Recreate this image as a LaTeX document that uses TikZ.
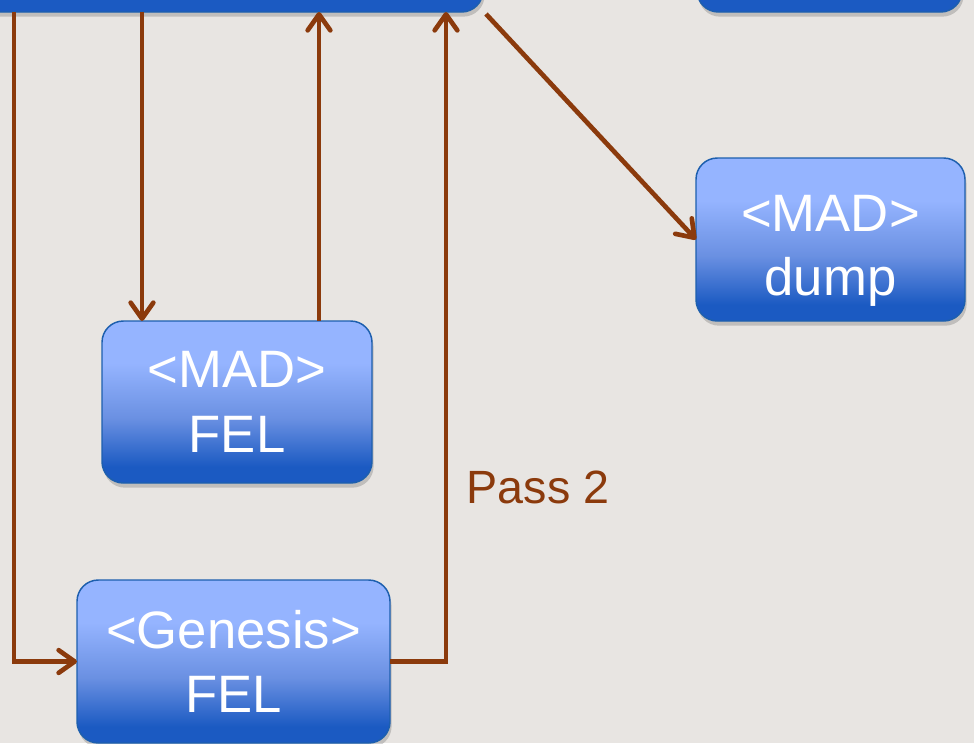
\documentclass[tikz,border=0pt]{standalone}
\usepackage{fontspec}
\setmainfont{Liberation Sans}
\usetikzlibrary{arrows.meta,shadows}

\definecolor{bgpaper}{HTML}{E8E5E2}
\definecolor{boxlight}{HTML}{95B4FF}
\definecolor{boxmid}{HTML}{6A90E2}
\definecolor{boxdark}{HTML}{1B5AC2}
\definecolor{boxedge}{HTML}{1D5FAE}
\definecolor{flowbrown}{HTML}{8B3A0C}

% vertical fill of the blocks: light top, dark bottom
\pgfdeclareverticalshading{blockfill}{100bp}{%
  color(0bp)=(boxdark); color(30bp)=(boxdark); color(45bp)=(boxmid);
  color(62bp)=(boxlight); color(100bp)=(boxlight)}

\tikzset{
  block/.style={rectangle, rounded corners=16pt, draw=boxedge, line width=1.1pt,
    shading=blockfill, inner sep=0pt, outer sep=0pt, align=center,
    text=white, text depth=0pt, font=\fontsize{39.5}{48.5}\selectfont,
    drop shadow={shadow xshift=1.2pt, shadow yshift=-3.5pt, opacity=0.25, fill=black!70}},
  flow/.style={draw=flowbrown, line width=3.5pt,
    -{Straight Barb[length=12pt, width=17pt, line width=3.5pt, line cap=round, line join=round]}},
  passlabel/.style={text=flowbrown, font=\fontsize{35}{42}\selectfont, inner sep=0pt}
}

\begin{document}
\begin{tikzpicture}[x=0.75pt, y=-0.75pt]
  \fill[bgpaper] (0,0) rectangle (974,743);
  \useasboundingbox (0,0) rectangle (974,743);
  \clip (0,0) rectangle (974,743);

  % blocks
  \node[block, minimum width=587.25pt, minimum height=121.5pt] (top) at (91.5,-69) {};
  \node[block, minimum width=198.75pt, minimum height=121.5pt] (topright) at (829.5,-69) {};
  \node[block, minimum width=201.75pt, minimum height=122.25pt] (dump) at (830.5,239.5) {\rule{0pt}{36pt}<MAD>\\dump};
  \node[block, minimum width=202.5pt, minimum height=121.5pt] (madfel) at (237,402) {<MAD>\\FEL};
  \node[block, minimum width=234.75pt, minimum height=122.25pt] (gen) at (233.5,661.5) {<Genesis>\\FEL};

  \node[passlabel] (pass) at (538,487) {Pass 2};

  % columns used by the vertical connectors
  \coordinate (c1) at (14,0);
  \coordinate (c2) at (142,0);
  \coordinate (c3) at (319,0);
  \coordinate (c4) at (446,0);

  % connectors
  \draw[flow] (c1 |- top.south) |- (gen.west);
  \draw[flow] (c2 |- top.south) -- (c2 |- madfel.north);
  \draw[flow] (c3 |- madfel.north) -- (c3 |- top.south);
  \draw[flow] (gen.east) -| (c4 |- top.south);
  \draw[flow] ([shift={(3,2)}]top.south east) -- (dump.west);
\end{tikzpicture}
\end{document}
